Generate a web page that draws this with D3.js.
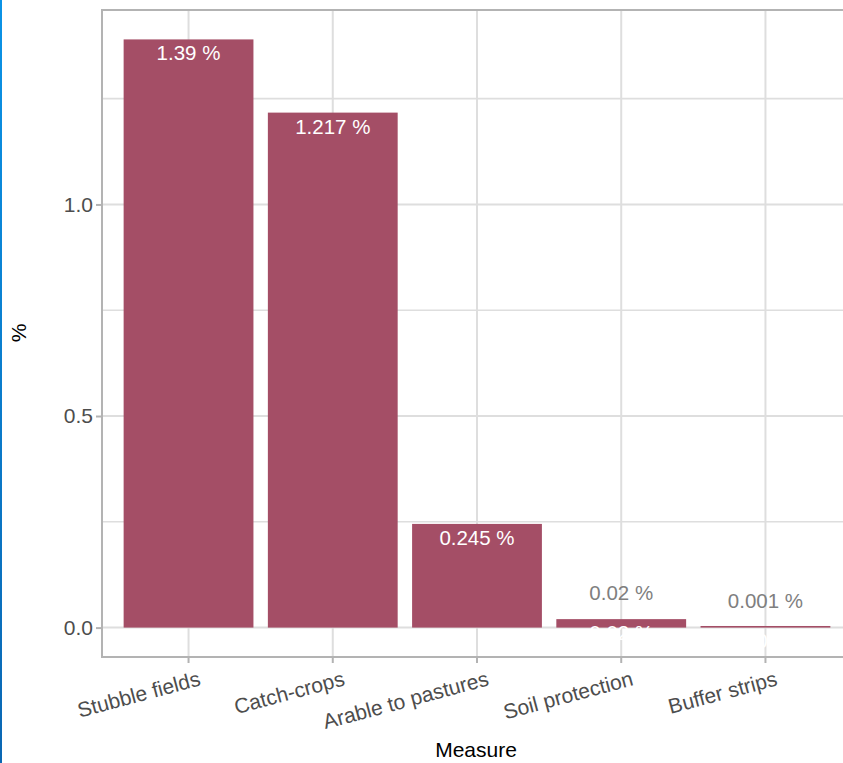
<!DOCTYPE html>
<html>
<head>
<meta charset="utf-8">
<script src="https://cdn.jsdelivr.net/npm/d3@7/dist/d3.min.js"></script>
<style>
  body { margin: 0; background: #fff; }
  svg { display: block; font-family: "Liberation Sans", Arial, sans-serif; }
</style>
</head>
<body>
<svg id="chart" width="843" height="763"></svg>
<script>
var measures = ["Stubble fields", "Catch-crops", "Arable to pastures", "Soil protection", "Buffer strips"];
var shares = [1.39, 1.217, 0.245, 0.02, 0.001];
var labels = ["1.39 %", "1.217 %", "0.245 %", "0.02 %", "0.001 %"];
var yTicks = [0, 0.5, 1.0];
var yMinor = [0.25, 0.75, 1.25];

var svg = d3.select("#chart"),
    margin = { top: 10, right: -9, bottom: 106, left: 102 },
    width = +svg.attr("width") - margin.left - margin.right,
    height = +svg.attr("height") - margin.top - margin.bottom;

// blue edge at the left of the shot
var grad = svg.append("defs").append("linearGradient")
    .attr("id", "edge").attr("x1", 0).attr("x2", 0).attr("y1", 0).attr("y2", 1);
grad.append("stop").attr("offset", "0%").attr("stop-color", "#0b93e6");
grad.append("stop").attr("offset", "100%").attr("stop-color", "#0a67b3");
svg.append("rect").attr("x", 0).attr("y", 0).attr("width", 2).attr("height", 763).attr("fill", "url(#edge)");

var g = svg.append("g").attr("transform", "translate(" + margin.left + "," + margin.top + ")");

var x = d3.scaleBand()
    .domain(measures)
    .range([0, width])
    .paddingInner(0.1)
    .paddingOuter(0.15);

var ymax = d3.max(shares);
var y = d3.scaleLinear()
    .domain([-0.05 * ymax, ymax * 1.05])
    .range([height, 0]);

// grid
g.append("g").selectAll("line")
    .data(yMinor.concat(yTicks))
    .enter().append("line")
    .attr("x1", 0).attr("x2", width)
    .attr("y1", function (d) { return y(d); })
    .attr("y2", function (d) { return y(d); })
    .attr("stroke", "#dedede")
    .attr("stroke-width", function (d) { return yTicks.indexOf(d) >= 0 ? 2 : 1.6; });

g.append("g").selectAll("line")
    .data(measures)
    .enter().append("line")
    .attr("y1", 0).attr("y2", height)
    .attr("x1", function (d) { return x(d) + x.bandwidth() / 2; })
    .attr("x2", function (d) { return x(d) + x.bandwidth() / 2; })
    .attr("stroke", "#dedede")
    .attr("stroke-width", 2);

// bars (very small ones still show as a thin line)
g.append("g").selectAll("rect")
    .data(shares)
    .enter().append("rect")
    .attr("x", function (d, i) { return x(measures[i]); })
    .attr("width", x.bandwidth())
    .attr("y", function (d) { return Math.min(y(d), y(0) - 1.6); })
    .attr("height", function (d) { return Math.max(y(0) - y(d), 1.6); })
    .attr("fill", "#a44e66");

// labels inside the bars (white) and above the small ones (grey)
g.append("g").selectAll("text")
    .data(shares)
    .enter().append("text")
    .attr("x", function (d, i) { return x(measures[i]) + x.bandwidth() / 2; })
    .attr("y", function (d) { return y(d) + 21; })
    .attr("text-anchor", "middle")
    .attr("font-size", 20.5)
    .attr("fill", "#ffffff")
    .text(function (d, i) { return labels[i]; });

g.append("g").selectAll("text")
    .data(shares.filter(function (d) { return d < 0.05; }))
    .enter().append("text")
    .attr("x", function (d) { return x(measures[shares.indexOf(d)]) + x.bandwidth() / 2; })
    .attr("y", function (d) { return y(d) - 19.5; })
    .attr("text-anchor", "middle")
    .attr("font-size", 20.5)
    .attr("fill", "#7f7f7f")
    .text(function (d) { return labels[shares.indexOf(d)]; });

// panel border
g.append("rect")
    .attr("x", 0).attr("y", 0)
    .attr("width", width).attr("height", height)
    .attr("fill", "none")
    .attr("stroke", "#b3b3b3")
    .attr("stroke-width", 2);

// y axis
var yAxis = g.append("g")
    .call(d3.axisLeft(y).tickValues(yTicks).tickFormat(d3.format(".1f")).tickSize(6).tickPadding(3));
yAxis.select(".domain").remove();
yAxis.selectAll(".tick line").attr("stroke", "#b3b3b3").attr("stroke-width", 2);
yAxis.selectAll(".tick text")
    .attr("font-size", 21)
    .attr("fill", "#4d4d4d")
    .attr("font-family", "Liberation Sans, Arial, sans-serif");

// x axis
var xAxis = g.append("g")
    .attr("transform", "translate(0," + height + ")")
    .call(d3.axisBottom(x).tickSize(6).tickPadding(4));
xAxis.select(".domain").remove();
xAxis.selectAll(".tick line").attr("stroke", "#b3b3b3").attr("stroke-width", 2);
xAxis.selectAll(".tick text")
    .attr("font-size", 21)
    .attr("fill", "#4d4d4d")
    .attr("font-family", "Liberation Sans, Arial, sans-serif")
    .attr("text-anchor", "end")
    .attr("dy", null)
    .attr("y", 0)
    .attr("transform", "translate(13,28) rotate(-15)");

// axis titles
svg.append("text")
    .attr("x", 476)
    .attr("y", 757)
    .attr("text-anchor", "middle")
    .attr("font-size", 21)
    .attr("fill", "#000")
    .text("Measure");

svg.append("text")
    .attr("transform", "translate(26,333) rotate(-90)")
    .attr("text-anchor", "middle")
    .attr("font-size", 21)
    .attr("fill", "#000")
    .text("%");
</script>
</body>
</html>
